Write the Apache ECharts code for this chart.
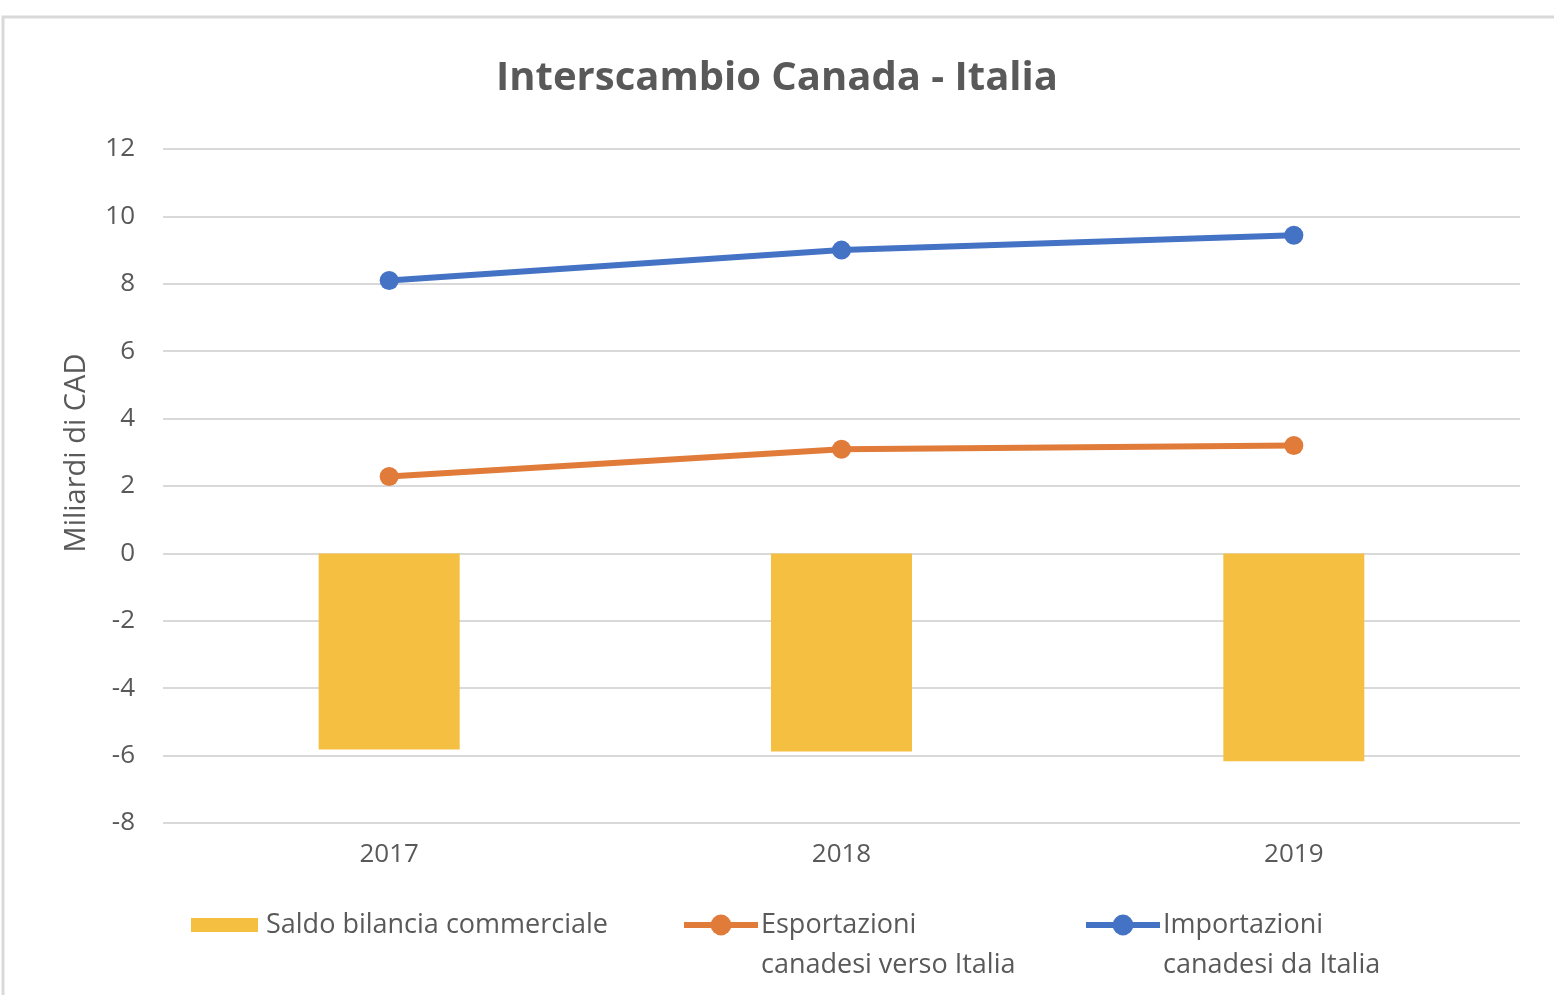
<!DOCTYPE html>
<html>
<head>
<meta charset="utf-8">
<script src="https://cdn.jsdelivr.net/npm/echarts@6/dist/echarts.min.js"></script>
<style>
  html, body { margin: 0; padding: 0; background: #fff; }
  #main { width: 1554px; height: 995px; }
</style>
</head>
<body>
<div id="main"></div>
<script>
var years = ['2017', '2018', '2019'];
var saldo = [-5.82, -5.88, -6.17];
var esportazioni = [2.28, 3.09, 3.2];
var importazioni = [8.1, 9.0, 9.44];
var seriesNames = ['Saldo bilancia commerciale', 'Esportazioni canadesi verso Italia', 'Importazioni canadesi da Italia'];

var grey = '#595959';
var font = '"Open Sans", sans-serif';

var myChart = echarts.init(document.getElementById('main'));

function legendFor(name, left) {
    var isBar = name === seriesNames[0];
    return {
        data: [isBar ? { name: name, icon: 'rect' } : name],
        left: left,
        top: isBar ? 905 : 865,
        itemWidth: isBar ? 67 : 74,
        itemHeight: isBar ? 14 : 26,
        itemGap: 0,
        padding: 0,
        lineStyle: { width: 6 },
        formatter: function (n) {
            if (n === seriesNames[1]) return '\nEsportazioni\ncanadesi verso Italia';
            if (n === seriesNames[2]) return '\nImportazioni\ncanadesi da Italia';
            return n;
        },
        textStyle: {
            color: grey,
            fontSize: 27,
            fontFamily: font,
            lineHeight: 40,
            padding: isBar ? [0, 0, 0, 3] : [0, 0, 0, -2]
        }
    };
}

let option = {
    backgroundColor: '#fff',
    textStyle: { fontFamily: font },
    title: {
        text: 'Interscambio Canada - Italia',
        left: 'center',
        top: 54,
        textStyle: {
            color: grey,
            fontSize: 40,
            fontWeight: 'bold',
            fontFamily: font
        }
    },
    graphic: [{
        type: 'rect',
        shape: { x: 3, y: 17, width: 1700, height: 1200 },
        style: { fill: 'none', stroke: '#d9d9d9', lineWidth: 3 },
        silent: true,
        z: -1
    }],
    legend: [
        legendFor(seriesNames[0], 191),
        legendFor(seriesNames[1], 681),
        legendFor(seriesNames[2], 1083)
    ],
    grid: {
        left: 163,
        right: 34,
        top: 149,
        bottom: 172
    },
    xAxis: [{
        type: 'category',
        data: years,
        axisLine: { show: false },
        axisTick: { show: false },
        axisLabel: {
            color: grey,
            fontSize: 26,
            fontFamily: font,
            margin: 19
        }
    }],
    yAxis: [{
        type: 'value',
        min: -8,
        max: 12,
        interval: 2,
        name: 'Miliardi di CAD',
        nameLocation: 'middle',
        nameGap: 72,
        nameTextStyle: {
            color: grey,
            fontSize: 29,
            fontFamily: font,
            padding: [0, 0, 0, 66]
        },
        axisLine: { show: false },
        axisTick: { show: false },
        axisLabel: {
            color: grey,
            fontSize: 26,
            fontFamily: font,
            margin: 28
        },
        splitLine: {
            lineStyle: { color: '#d9d9d9', width: 2 }
        }
    }],
    series: [
        {
            name: seriesNames[0],
            type: 'bar',
            data: saldo,
            barWidth: 141,
            itemStyle: { color: '#F5BF42' }
        },
        {
            name: seriesNames[1],
            type: 'line',
            data: esportazioni,
            symbol: 'circle',
            symbolSize: 19,
            lineStyle: { color: '#E07B39', width: 6 },
            itemStyle: { color: '#E07B39' }
        },
        {
            name: seriesNames[2],
            type: 'line',
            data: importazioni,
            symbol: 'circle',
            symbolSize: 19,
            lineStyle: { color: '#4472C4', width: 6 },
            itemStyle: { color: '#4472C4' }
        }
    ]
};
myChart.setOption(option);
</script>
</body>
</html>
